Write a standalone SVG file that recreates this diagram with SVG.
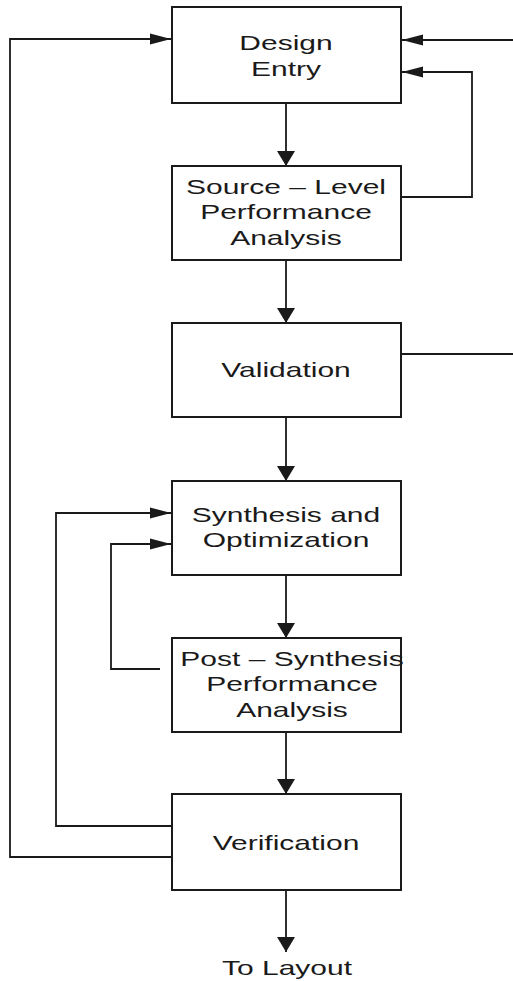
<svg xmlns="http://www.w3.org/2000/svg" width="513" height="981" viewBox="0 0 513 981">
  <style>
    .box { fill: #ffffff; stroke: #1a1a1a; stroke-width: 2; }
    .ln { fill: none; stroke: #1a1a1a; stroke-width: 1.8; }
    .t { font-family: "Liberation Sans", Arial, sans-serif; font-size: 20px; fill: #1a1a1a; text-anchor: middle; }
  </style>
  <defs>
    <marker id="ah" markerUnits="userSpaceOnUse" markerWidth="22" markerHeight="12" refX="21" refY="6" orient="auto">
      <path d="M0,0.5 L21,6 L0,11.5 Z" fill="#1a1a1a"/>
    </marker>
    <marker id="av" markerUnits="userSpaceOnUse" markerWidth="16" markerHeight="18" refX="15" refY="9" orient="auto">
      <path d="M0,0 L15,9 L0,18 Z" fill="#1a1a1a"/>
    </marker>
  </defs>
  <rect width="513" height="981" fill="#ffffff"/>

  <g id="connectors">
    <!-- main flow -->
    <line class="ln" x1="286" y1="103" x2="286" y2="166" marker-end="url(#av)"/>
    <line class="ln" x1="286" y1="260" x2="286" y2="323" marker-end="url(#av)"/>
    <line class="ln" x1="286" y1="417" x2="286" y2="481" marker-end="url(#av)"/>
    <line class="ln" x1="286" y1="575" x2="286" y2="638" marker-end="url(#av)"/>
    <line class="ln" x1="286" y1="732" x2="286" y2="794" marker-end="url(#av)"/>
    <line class="ln" x1="286" y1="890" x2="286" y2="952" marker-end="url(#av)"/>
    <!-- feedback loops -->
    <polyline class="ln" points="401,197 472,197 472,72 402,72" marker-end="url(#ah)"/>
    <line class="ln" x1="401" y1="354" x2="513" y2="354"/>
    <line class="ln" x1="513" y1="40" x2="402" y2="40" marker-end="url(#ah)"/>
    <polyline class="ln" points="172,857 10,857 10,39 171,39" marker-end="url(#ah)"/>
    <polyline class="ln" points="172,826 56,826 56,513 171,513" marker-end="url(#ah)"/>
    <polyline class="ln" points="160,669 111,669 111,544 171,544" marker-end="url(#ah)"/>
  </g>

  <g id="design-entry">
    <rect class="box" x="172" y="7" width="229" height="96"/>
    <text class="t" transform="translate(286,50) scale(1.5,1)">Design</text>
    <text class="t" transform="translate(286,76) scale(1.5,1)">Entry</text>
  </g>
  <g id="source-level">
    <rect class="box" x="172" y="166" width="229" height="94"/>
    <text class="t" transform="translate(286,194) scale(1.5,1)">Source – Level</text>
    <text class="t" transform="translate(286,219) scale(1.5,1)">Performance</text>
    <text class="t" transform="translate(286,245) scale(1.5,1)">Analysis</text>
  </g>
  <g id="validation">
    <rect class="box" x="172" y="323" width="229" height="94"/>
    <text class="t" transform="translate(286,377) scale(1.5,1)">Validation</text>
  </g>
  <g id="synthesis">
    <rect class="box" x="172" y="481" width="229" height="94"/>
    <text class="t" transform="translate(286,522) scale(1.5,1)">Synthesis and</text>
    <text class="t" transform="translate(286,547) scale(1.5,1)">Optimization</text>
  </g>
  <g id="post-synthesis">
    <rect class="box" x="172" y="638" width="229" height="94"/>
    <text class="t" transform="translate(292,666) scale(1.5,1)">Post – Synthesis</text>
    <text class="t" transform="translate(292,691) scale(1.5,1)">Performance</text>
    <text class="t" transform="translate(292,717) scale(1.5,1)">Analysis</text>
  </g>
  <g id="verification">
    <rect class="box" x="172" y="794" width="229" height="96"/>
    <text class="t" transform="translate(286,850) scale(1.5,1)">Verification</text>
  </g>
  <g id="to-layout">
    <text class="t" transform="translate(287,975) scale(1.5,1)">To Layout</text>
  </g>
</svg>
